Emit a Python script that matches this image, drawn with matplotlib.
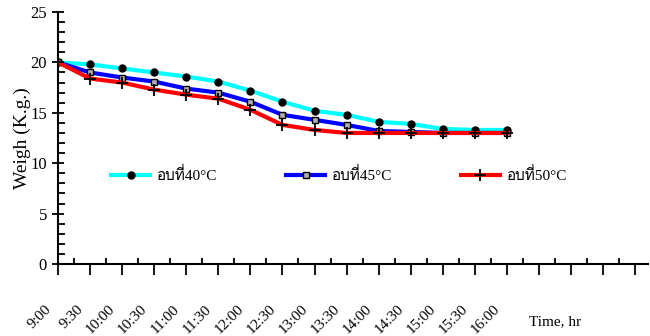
import matplotlib
matplotlib.use('Agg')
import matplotlib.pyplot as plt
import matplotlib.transforms as mtransforms
from matplotlib import font_manager
from matplotlib.ticker import MultipleLocator

times = ['9:00', '9:30', '10:00', '10:30', '11:00', '11:30', '12:00', '12:30',
         '13:00', '13:30', '14:00', '14:30', '15:00', '15:30', '16:00']
temp40 = [20.0, 19.8, 19.4, 19.0, 18.6, 18.1, 17.2, 16.1, 15.2, 14.8, 14.1, 13.9, 13.4, 13.3, 13.3]
temp45 = [20.0, 19.0, 18.5, 18.1, 17.4, 17.0, 16.1, 14.8, 14.3, 13.8, 13.2, 13.1, 13.0, 13.0, 13.0]
temp50 = [20.0, 18.4, 18.0, 17.3, 16.8, 16.4, 15.3, 13.8, 13.3, 13.0, 13.0, 13.0, 13.0, 13.0, 13.0]
series_labels = ['อบที่40°C', 'อบที่45°C', 'อบที่50°C']


def find_thai_font():
    # look for any installed font that has Thai glyphs
    from fontTools.ttLib import TTFont
    for f in font_manager.fontManager.ttflist:
        try:
            cmap = TTFont(f.fname, fontNumber=0, lazy=True).getBestCmap()
        except Exception:
            continue
        if cmap and 0x0E2D in cmap and 0x0E17 in cmap:
            return f.name
    return None


plt.rcParams['font.family'] = ['Liberation Serif', 'DejaVu Serif']
thai = find_thai_font()
legend_family = ['Liberation Serif'] + ([thai] if thai else []) + ['DejaVu Sans']

fig = plt.figure(figsize=(6.5, 3.36), dpi=100)
ax = fig.add_axes([58 / 650, 1 - 264 / 336, 590 / 650, 252 / 336])

x = list(range(len(times)))
ax.plot(x, temp40, color='#00ffff', lw=3, marker='o', ms=5,
        mfc='black', mec='black', label=series_labels[0], zorder=3)
ax.plot(x, temp45, color='#0000ff', lw=3, marker='s', ms=5,
        mfc='#b0b0b0', mec='black', mew=1, label=series_labels[1], zorder=3)
ax.plot(x, temp50, color='#ff0000', lw=3, marker='+', ms=8,
        mec='black', mew=1.3, label=series_labels[2], zorder=3)

ax.set_xlim(0, 18.4)
ax.set_ylim(0, 25)
ax.spines['top'].set_visible(False)
ax.spines['right'].set_visible(False)
ax.spines['left'].set_linewidth(1.5)
ax.spines['bottom'].set_linewidth(1.5)

ax.xaxis.set_major_locator(MultipleLocator(1))
ax.xaxis.set_minor_locator(MultipleLocator(0.5))
ax.yaxis.set_major_locator(MultipleLocator(5))
ax.yaxis.set_minor_locator(MultipleLocator(1))

ax.tick_params(axis='x', which='major', direction='out', length=8, width=1.3, pad=23)
ax.tick_params(axis='x', which='minor', direction='in', length=4, width=1.3)
ax.tick_params(axis='y', which='major', direction='inout', length=9, width=1.3, labelsize=12)
ax.tick_params(axis='y', which='minor', direction='in', length=5, width=1.3)

ax.set_xticklabels([times[int(t)] if 0 <= t < len(times) else '' for t in ax.get_xticks()],
                   rotation=45, ha='right', va='center', rotation_mode='anchor', fontsize=11)
# shift the slanted labels a bit to the left of their ticks
shift = mtransforms.ScaledTranslation(-9 / 100, 0, fig.dpi_scale_trans)
for lab in ax.get_xticklabels():
    lab.set_transform(lab.get_transform() + shift)

ax.set_ylabel('Weigh (K.g.)', fontsize=14)
ax.yaxis.set_label_coords(-0.046, 0.5)
fig.text(555 / 650, 1 - 322 / 336, 'Time, hr', fontsize=11, ha='center', va='center')

ax.legend(loc='center left', bbox_to_anchor=(0.066, 0.353), ncol=3, frameon=False,
          handlelength=2.6, columnspacing=4.5, handletextpad=0.4,
          prop={'family': legend_family, 'size': 11})

fig.savefig('out.png', dpi=100)
